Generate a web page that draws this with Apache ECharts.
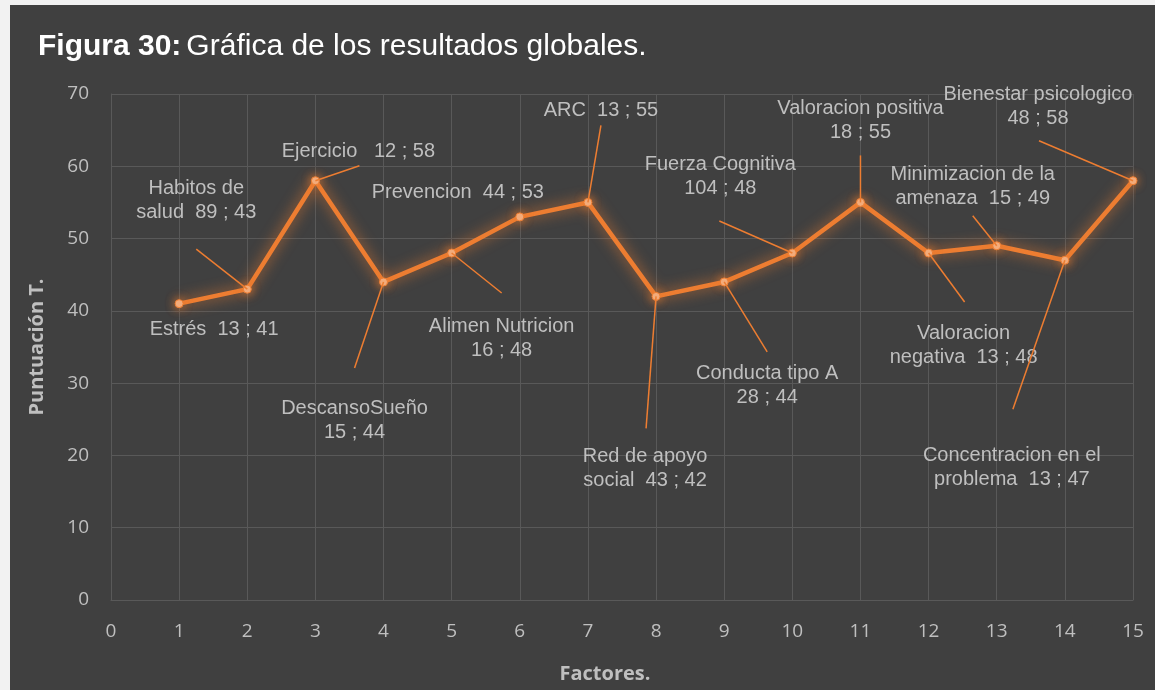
<!DOCTYPE html>
<html>
	<head>
		<meta charset="utf-8" />
		<title>Figura 30</title>
		<script src="https://cdn.jsdelivr.net/npm/echarts@6/dist/echarts.min.js" type="text/javascript" charset="utf-8"></script>
		<style type="text/css">
			body {
				margin: 0;
				background: #f2f2f2;
			}
			#chart {
				position: absolute;
				left: 10px;
				top: 5px;
				width: 1145px;
				height: 685px;
				background: #404040;
			}
		</style>
	</head>
	<body>
		<div id="chart"></div>
		<script type="text/javascript">
			// factor number on the x axis
			var factors = [1, 2, 3, 4, 5, 6, 7, 8, 9, 10, 11, 12, 13, 14, 15];
			// puntuacion T (y) for each factor
			var tScores = [41, 43, 58, 44, 48, 53, 55, 42, 44, 48, 55, 48, 49, 47, 58];
			// first number shown in each label
			var nValues = [13, 89, 12, 15, 16, 44, 13, 43, 28, 104, 18, 13, 15, 13, 48];
			var factorNames = [
				'Estrés', 'Habitos de\nsalud', 'Ejercicio', 'DescansoSueño', 'Alimen Nutricion',
				'Prevencion', 'ARC', 'Red de apoyo\nsocial', 'Conducta tipo A', 'Fuerza Cognitiva',
				'Valoracion positiva', 'Valoracion\nnegativa', 'Minimizacion de la\namenaza',
				'Concentracion en el\nproblema', 'Bienestar psicologico'
			];
			// what goes between the name and the numbers
			var nameSep = ['  ', '  ', '   ', '\n', '\n', '  ', '  ', '  ', '\n', '\n', '\n', '  ', '  ', '  ', '\n'];

			// label placement, pixels from the point: [text dx, text dy, leader dx, leader dy]
			var labelPos = [
				[35, 26, null, null],
				[-51, -89, -51, -40],
				[43, -29, 44, -15],
				[-29, 139, -29, 86],
				[50, 85, 50, 40],
				[-62, -24, null, null],
				[13, -92, 13, -77],
				[-11, 172, -10, 132],
				[43, 104, 43, 70],
				[-72, -77, -73, -32],
				[0, -82, 0, -47],
				[35, 92, 36, 49],
				[-24, -59, -24, -30],
				[-53, 207, -52, 149],
				[-95, -74, -94, -40]
			];

			var orange = '#ed7d31';
			var gridColor = '#595959';
			var textGray = '#bfbfbf';

			var lineData = [];
			var labelData = [];
			for (var i = 0; i < factors.length; i++) {
				lineData.push([factors[i], tScores[i]]);
				labelData.push([factors[i], tScores[i], i]);
			}

			function renderLabel(params, api) {
				var i = api.value(2);
				var p = api.coord([api.value(0), api.value(1)]);
				var pos = labelPos[i];
				var children = [];
				if (pos[2] !== null) {
					children.push({
						type: 'line',
						shape: { x1: p[0], y1: p[1], x2: p[0] + pos[2], y2: p[1] + pos[3] },
						style: { stroke: orange, lineWidth: 1.5 }
					});
				}
				children.push({
					type: 'text',
					style: {
						text: factorNames[i] + nameSep[i] + nValues[i] + ' ; ' + tScores[i],
						x: p[0] + pos[0],
						y: p[1] + pos[1],
						align: 'center',
						verticalAlign: 'middle',
						fill: textGray,
						font: '20px "Liberation Sans", Arial, sans-serif',
						lineHeight: 24
					}
				});
				return { type: 'group', children: children };
			}

			var chart = echarts.init(document.getElementById('chart'));
			var option = {
				backgroundColor: '#404040',
				animation: false,
				title: {
					text: '{b|Figura 30:} {n|Gráfica de los resultados globales.}',
					left: 23,
					top: 22,
					textStyle: {
						fontWeight: 'normal',
						rich: {
							b: { color: '#ffffff', fontSize: 30, fontWeight: 'bold', fontFamily: '"Liberation Sans", Arial' },
							n: { color: '#ffffff', fontSize: 30, fontWeight: 'normal', fontFamily: '"Liberation Sans", Arial' }
						}
					}
				},
				grid: { left: 101, right: 22, top: 89, bottom: 90 },
				xAxis: {
					type: 'value',
					min: 0,
					max: 15,
					interval: 1,
					name: 'Factores.',
					nameLocation: 'middle',
					nameGap: 64,
					nameTextStyle: { color: textGray, fontSize: 20, fontWeight: 'bold', fontFamily: '"Open Sans"', padding: [0, 34, 0, 0] },
					axisLine: { lineStyle: { color: gridColor } },
					axisTick: { show: false },
					axisLabel: { color: textGray, fontSize: 19, margin: 22, fontFamily: '"Open Sans"' },
					splitLine: { show: true, lineStyle: { color: gridColor } }
				},
				yAxis: {
					type: 'value',
					min: 0,
					max: 70,
					interval: 10,
					name: 'Puntuación T.',
					nameLocation: 'middle',
					nameGap: 64,
					nameTextStyle: { color: textGray, fontSize: 20, fontWeight: 'bold', fontFamily: '"Open Sans"' },
					axisLine: { show: true, lineStyle: { color: gridColor } },
					axisTick: { show: false },
					axisLabel: { color: textGray, fontSize: 19, margin: 22, fontFamily: '"Open Sans"' },
					splitLine: { show: true, lineStyle: { color: gridColor } }
				},
				series: [
					{
						type: 'line',
						data: lineData,
						symbol: 'circle',
						symbolSize: 8,
						lineStyle: {
							color: orange,
							width: 4.5,
							shadowColor: 'rgba(237,125,49,0.9)',
							shadowBlur: 14
						},
						itemStyle: {
							color: '#f4b183',
							borderColor: orange,
							borderWidth: 1,
							shadowColor: 'rgba(237,125,49,0.9)',
							shadowBlur: 10
						},
						z: 3
					},
					{
						type: 'custom',
						data: labelData,
						encode: { x: 0, y: 1 },
						renderItem: renderLabel,
						clip: false,
						silent: true,
						z: 4
					}
				]
			};
			chart.setOption(option);
		</script>
	</body>
</html>
